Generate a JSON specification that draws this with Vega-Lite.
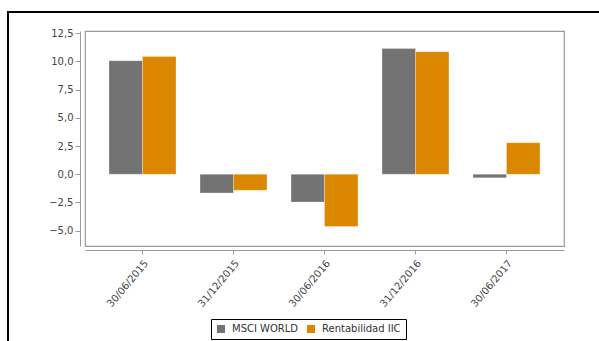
{
  "$schema": "https://vega.github.io/schema/vega-lite/v6.json",
  "width": 479,
  "height": 215,
  "autosize": {"type": "none"},
  "padding": {"left": 85, "top": 31, "right": 35, "bottom": 95},
  "background": "white",
  "config": {
    "locale": {"number": {"decimal": ",", "thousands": ".", "grouping": [3], "currency": ["", " €"]}},
    "font": "DejaVu Sans",
    "view": {"stroke": "#9a9a9a", "strokeWidth": 1.2},
    "axis": {
      "labelFont": "DejaVu Sans",
      "labelFontSize": 10,
      "labelColor": "#444444",
      "labelOverlap": false,
      "domainColor": "#9a9a9a",
      "tickColor": "#9a9a9a",
      "grid": false,
      "title": null
    }
  },
  "data": {
    "values": [
      {"fecha": "30/06/2015", "serie": "MSCI WORLD", "valor": 10.07},
      {"fecha": "30/06/2015", "serie": "Rentabilidad IIC", "valor": 10.43},
      {"fecha": "31/12/2015", "serie": "MSCI WORLD", "valor": -1.66},
      {"fecha": "31/12/2015", "serie": "Rentabilidad IIC", "valor": -1.42},
      {"fecha": "30/06/2016", "serie": "MSCI WORLD", "valor": -2.46},
      {"fecha": "30/06/2016", "serie": "Rentabilidad IIC", "valor": -4.64},
      {"fecha": "31/12/2016", "serie": "MSCI WORLD", "valor": 11.14},
      {"fecha": "31/12/2016", "serie": "Rentabilidad IIC", "valor": 10.87},
      {"fecha": "30/06/2017", "serie": "MSCI WORLD", "valor": -0.32},
      {"fecha": "30/06/2017", "serie": "Rentabilidad IIC", "valor": 2.8}
    ]
  },
  "layer": [
    {
      "mark": {"type": "bar", "stroke": "#ffffff", "strokeOpacity": 0.35, "strokeWidth": 0.8},
      "encoding": {
        "x": {
          "field": "fecha",
          "type": "nominal",
          "sort": null,
          "scale": {"paddingInner": 0.264, "paddingOuter": 0.264},
          "axis": {
            "offset": 4,
            "tickSize": 4,
            "labelAngle": -50,
            "labelAlign": "right",
            "labelBaseline": "top",
            "labelPadding": 4
          }
        },
        "xOffset": {"field": "serie", "type": "nominal", "scale": {"paddingInner": 0, "paddingOuter": 0}},
        "y": {
          "field": "valor",
          "type": "quantitative",
          "scale": {"domain": [-6.36, 12.7], "nice": false, "zero": false},
          "axis": {
            "offset": 5,
            "tickSize": 5,
            "labelPadding": 2,
            "format": ".1f",
            "tickCount": 12,
            "values": [-5, -2.5, 0, 2.5, 5, 7.5, 10, 12.5]
          }
        },
        "color": {
          "field": "serie",
          "type": "nominal",
          "scale": {"domain": ["MSCI WORLD", "Rentabilidad IIC"], "range": ["#737373", "#db8800"]},
          "legend": {
            "orient": "none",
            "legendX": 126,
            "legendY": 288,
            "direction": "horizontal",
            "title": null,
            "strokeColor": "#000000",
            "padding": 5,
            "symbolType": "square",
            "symbolSize": 64,
            "symbolStrokeWidth": 0,
            "labelFont": "DejaVu Sans",
            "labelFontSize": 10,
            "labelColor": "#333333",
            "labelOffset": 6,
            "columnPadding": 7
          }
        }
      }
    },
    {
      "mark": {"type": "rect", "fill": null, "stroke": "#000000", "strokeWidth": 1.5, "clip": false},
      "encoding": {
        "x": {"datum": -77, "type": "quantitative", "scale": {"domain": [0, 479], "nice": false, "zero": false}, "axis": null},
        "x2": {"datum": 800},
        "y": {"datum": 14.4, "type": "quantitative"},
        "y2": {"datum": -30}
      }
    }
  ],
  "resolve": {"scale": {"x": "independent"}, "axis": {"x": "independent"}}
}
